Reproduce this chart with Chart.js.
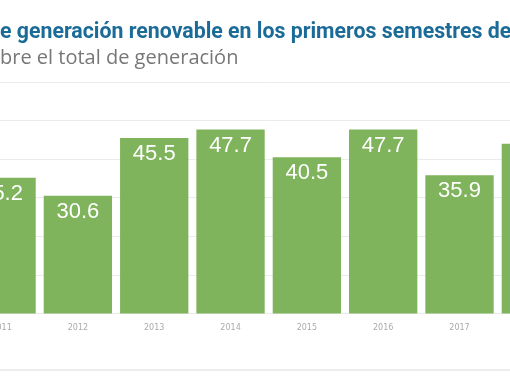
<!DOCTYPE html>
<html><head><meta charset="utf-8">
<script src="https://cdn.jsdelivr.net/npm/chart.js@4"></script>
<style>
html,body{margin:0;padding:0;background:#fff;overflow:hidden;width:510px;height:382px;position:relative;}
#wrap{position:absolute;top:0;left:-60px;width:660px;height:382px;}
#title{position:absolute;top:20.2px;left:0;white-space:nowrap;font:bold 21.3px/1 Roboto,sans-serif;color:#1b6b98;}
#subtitle{position:absolute;top:47.2px;left:0;white-space:nowrap;font:normal 20px/1 "Open Sans",sans-serif;color:#777777;}
#foot{position:absolute;left:0;top:369px;width:510px;height:0;border-top:2px solid #ececec;}
</style></head><body>
<div id="wrap"><canvas id="c"></canvas></div>
<div id="title"><span id="tpre"></span><span id="trest"></span></div>
<div id="subtitle"><span id="spre"></span><span id="srest"></span></div>
<div id="foot"></div>
<script>
const categories = ['2011','2012','2013','2014','2015','2016','2017','2018'];
const values = [35.2, 30.6, 45.5, 47.7, 40.5, 47.7, 35.9, 44.0];
const yTicks = [0, 10, 20, 30, 40, 50, 60];
const titleHidden = 'Porcentaje d';
const titleVisible = 'e generación renovable en los primeros semestres de cada año';
const subtitleHidden = 'En % so';
const subtitleVisible = 'bre el total de generación';

document.getElementById('tpre').textContent = titleHidden;
document.getElementById('trest').textContent = titleVisible;
document.getElementById('spre').textContent = subtitleHidden;
document.getElementById('srest').textContent = subtitleVisible;
function placeTitles() {
  const t = document.getElementById('title');
  t.style.left = (-document.getElementById('tpre').getBoundingClientRect().width) + 'px';
  const s = document.getElementById('subtitle');
  s.style.left = (-document.getElementById('spre').getBoundingClientRect().width) + 'px';
}
placeTitles();
if (document.fonts && document.fonts.ready) document.fonts.ready.then(placeTitles);

const barLabels = {
  id: 'barLabels',
  afterDatasetsDraw(chart) {
    const ctx = chart.ctx;
    const meta = chart.getDatasetMeta(0);
    ctx.save();
    ctx.font = '22px "Liberation Sans", Arial, sans-serif';
    ctx.fillStyle = '#ffffff';
    ctx.textAlign = 'center';
    ctx.textBaseline = 'middle';
    meta.data.forEach((el, i) => {
      ctx.fillText(values[i].toFixed(1), el.x, el.y + 16);
    });
    ctx.restore();
  }
};

new Chart(document.getElementById('c'), {
  type: 'bar',
  data: {
    labels: categories,
    datasets: [{
      data: values,
      backgroundColor: '#7fb35c',
      borderWidth: 0,
      categoryPercentage: 1.0,
      barPercentage: 0.895
    }]
  },
  options: {
    responsive: true,
    maintainAspectRatio: false,
    animation: false,
    events: [],
    layout: {padding: {left: 23.4, right: 26, top: 82, bottom: 40.5}},
    plugins: {
      legend: {display: false},
      tooltip: {enabled: false},
      title: {display: false},
      subtitle: {display: false}
    },
    scales: {
      x: {
        grid: {display: false, drawTicks: false},
        border: {display: false},
        ticks: {color: '#aaaaaa', font: {family: 'DejaVu Sans', size: 8}, padding: 9}
      },
      y: {
        min: 0, max: 60,
        afterBuildTicks(scale) { scale.ticks = yTicks.map(v => ({value: v})); },
        grid: {color: '#ebebeb', lineWidth: 1, drawTicks: false},
        border: {display: false},
        ticks: {display: false}
      }
    }
  },
  plugins: [barLabels]
});
</script>
</body></html>
